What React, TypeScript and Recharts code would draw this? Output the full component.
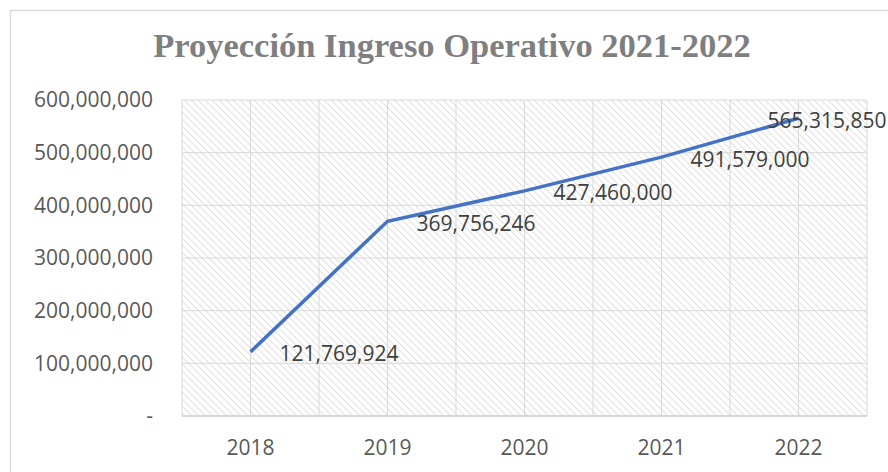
import React from "react";
import {
  LineChart,
  Line,
  XAxis,
  YAxis,
  CartesianGrid,
  ReferenceLine,
  LabelList,
} from "recharts";

const years: string[] = ["2018", "2019", "2020", "2021", "2022"];
const ingreso: number[] = [121769924, 369756246, 427460000, 491579000, 565315850];
const yTicks: number[] = [0, 100000000, 200000000, 300000000, 400000000, 500000000, 600000000];
const title = "Proyección Ingreso Operativo 2021-2022";

// label placement (Excel "right" position, last one clamped)
const labelDx: number[] = [29, 29, 29, 29, -31];
const labelDy: number[] = [1, 2, 1, 2, 2];

const data = years.map((year, i) => ({ idx: i, year, value: ingreso[i] }));
const xTicks = years.map((_, i) => i);
const vGrid: number[] = [];
for (let i = 0; i <= years.length * 2; i++) vGrid.push(-0.5 + i * 0.5);

const fmt = (v: number) => (v === 0 ? "-" : v.toLocaleString("en-US"));

const FONT = "'Open Sans', sans-serif";

const DataLabel = (props: any) => {
  const { x, y, value, index } = props;
  return (
    <text
      x={x + labelDx[index]}
      y={y + labelDy[index]}
      dominantBaseline="central"
      fill="#404040"
      fontSize={21}
      fontFamily={FONT}
    >
      {fmt(value)}
    </text>
  );
};

export default function App() {
  return (
    <div style={{ position: "absolute", left: 0, top: 0, width: 888, height: 472, background: "#fff" }}>
      <svg width={888} height={472} style={{ position: "absolute", left: 0, top: 0 }}>
        <rect x={10.5} y={10.5} width={890} height={480} fill="#fff" stroke="#d9d9d9" strokeWidth={1.5} />
        <text
          x={452}
          y={57}
          textAnchor="middle"
          fill="#7f7f7f"
          fontFamily="'Liberation Serif', serif"
          fontWeight="bold"
          fontSize={34.5}
        >
          {title}
        </text>
      </svg>
      <div style={{ position: "absolute", left: 0, top: 0 }}>
        <LineChart width={888} height={472} data={data} margin={{ top: 100, right: 21, bottom: 0, left: 0 }}>
          <defs>
            <pattern id="hatch" patternUnits="userSpaceOnUse" width={7} height={7}>
              <rect width={7} height={7} fill="#ffffff" />
              <path d="M-1,-1 L8,8 M-1,6 L1,8 M6,-1 L8,1" stroke="#e2e2e2" strokeWidth={1.1} />
            </pattern>
          </defs>
          <CartesianGrid
            vertical={false}
            stroke="#d9d9d9"
            strokeWidth={1}
            fill="url(#hatch)"
            fillOpacity={1}
          />
          {vGrid.map((v) => (
            <ReferenceLine key={v} x={v} stroke="#d9d9d9" strokeWidth={1} ifOverflow="extendDomain" />
          ))}
          <XAxis
            dataKey="idx"
            type="number"
            domain={[-0.5, years.length - 0.5]}
            ticks={xTicks}
            tickFormatter={(i: number) => years[i]}
            height={56}
            tickSize={0}
            tickMargin={24}
            axisLine={{ stroke: "#d0d0d0", strokeWidth: 1.5 }}
            tickLine={false}
            tick={{ fill: "#595959", fontSize: 21, fontFamily: FONT }}
            allowDecimals
          />
          <YAxis
            type="number"
            domain={[0, 600000000]}
            ticks={yTicks}
            tickFormatter={fmt}
            width={182}
            tickSize={0}
            tickMargin={29}
            axisLine={false}
            tickLine={false}
            tick={{ fill: "#595959", fontSize: 21, fontFamily: FONT }}
          />
          <Line
            type="linear"
            dataKey="value"
            stroke="#4472C4"
            strokeWidth={3.5}
            dot={false}
            activeDot={false}
            isAnimationActive={false}
          >
            <LabelList dataKey="value" content={DataLabel} />
          </Line>
        </LineChart>
      </div>
    </div>
  );
}
